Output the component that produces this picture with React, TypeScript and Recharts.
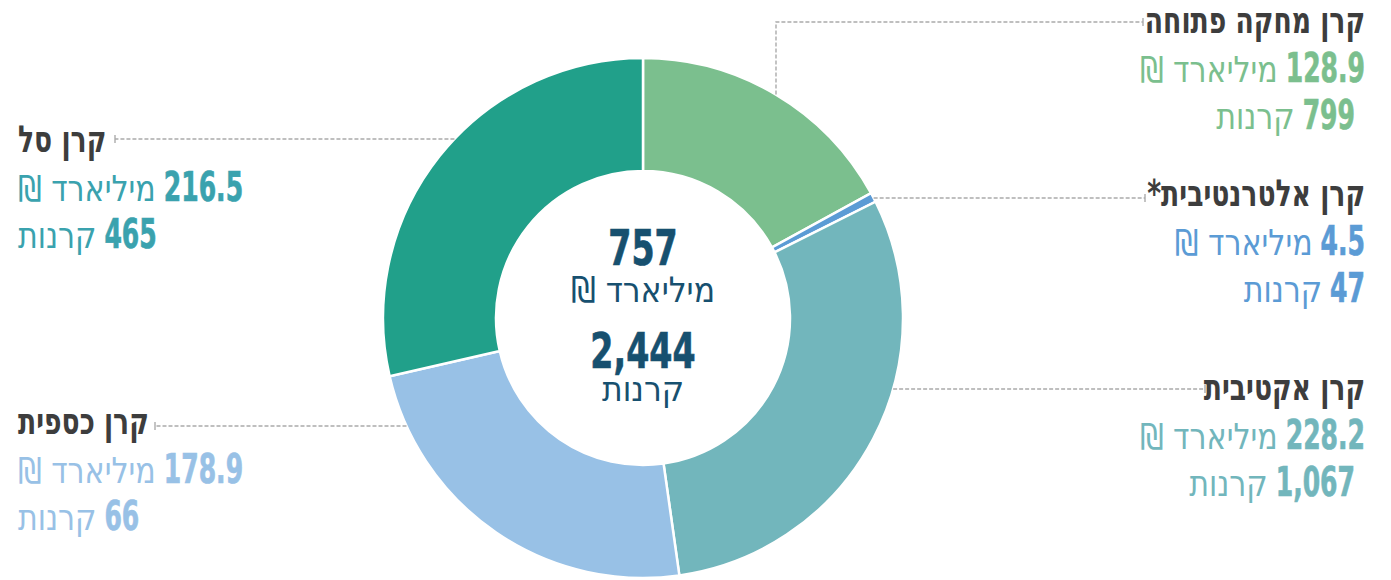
import React, { useLayoutEffect, useRef, useState } from 'react';
import { PieChart, Pie, Cell } from 'recharts';

// fund types, clockwise from the top
const fundNames = ['קרן מחקה פתוחה', 'קרן אלטרנטיבית*', 'קרן אקטיבית', 'קרן כספית', 'קרן סל'];
const assetsBn = [128.9, 4.5, 228.2, 178.9, 216.5];
const fundCounts = [799, 47, 1067, 66, 465];
const totalAssetsBn = 757;
const totalFunds = 2444;
const unitBn = 'מיליארד ₪';
const unitFunds = 'קרנות';

const sliceColors = ['#7bbf8e', '#5b9bd5', '#72b6bc', '#98c1e6', '#21a08a'];
const textColors = ['#7bbf8e', '#5b9bd5', '#72b6bc', '#98c1e6', '#3aa2ae'];

const FONT = "'DejaVu Sans Condensed', 'DejaVu Sans', sans-serif";
const TITLE_COLOR = '#3d3d3d';
const CENTER_COLOR = '#17506f';
const LINE_COLOR = '#ababab';

// horizontal squeeze to mimic the condensed face of the original
const TITLE_SCALE = 0.8;
const NUM_SCALE = 0.68;
const UNIT_SCALE = 0.93;
const CENTER_NUM_SCALE = 0.74;
const GAP = 8;

// label placement (layout only)
const labelLayout = [
    { side: 'right', lineY: 22, tickX: 1143, elbowX: 776, textX: 1365, titleY: 33, indent: 10 },
    { side: 'right', lineY: 198, tickX: 1145, elbowX: 0, textX: 1365, titleY: 206, indent: 0 },
    { side: 'right', lineY: 389, tickX: 1205, elbowX: 0, textX: 1365, titleY: 400, indent: 10 },
    { side: 'left', lineY: 426, tickX: 155, elbowX: 0, textX: 18, titleY: 434, indent: 0 },
    { side: 'left', lineY: 139, tickX: 115, elbowX: 0, textX: 18, titleY: 152, indent: 0 },
];

const data = fundNames.map((name, i) => ({ name, value: assetsBn[i], funds: fundCounts[i] }));

function ValueLine({ x, y, right, num, unit, color }: any) {
    const numRef = useRef<SVGTextElement>(null);
    const unitRef = useRef<SVGTextElement>(null);
    const [size, setSize] = useState({ num: 0, unit: 0 });

    // measure so the number and its unit sit side by side
    useLayoutEffect(() => {
        const n = numRef.current ? numRef.current.getComputedTextLength() * NUM_SCALE : 0;
        const u = unitRef.current ? unitRef.current.getComputedTextLength() * UNIT_SCALE : 0;
        if (Math.abs(n - size.num) > 0.5 || Math.abs(u - size.unit) > 0.5) setSize({ num: n, unit: u });
    });

    const numX = right ? x : x + size.unit + GAP;
    const unitX = right ? x - size.num - GAP : x;
    return (
        <g>
            <text ref={numRef} transform={`translate(${numX},${y}) scale(${NUM_SCALE},1)`}
                textAnchor={right ? 'end' : 'start'} fontFamily={FONT} fontSize={41} fontWeight={700}
                fill={color} stroke={color} strokeWidth={0.7}>
                {num}
            </text>
            <text ref={unitRef} transform={`translate(${unitX},${y}) scale(${UNIT_SCALE},1)`}
                direction="rtl" textAnchor={right ? 'start' : 'end'} fontFamily={FONT} fontSize={36} fill={color}>
                {unit}
            </text>
        </g>
    );
}

function renderLabel(props: any) {
    const { index, cx, cy, outerRadius } = props;
    const l = labelLayout[index];
    const right = l.side === 'right';
    let path: string;
    if (l.elbowX) {
        const sy = cy - Math.sqrt(outerRadius * outerRadius - (l.elbowX - cx) ** 2);
        path = `M${l.elbowX},${sy} L${l.elbowX},${l.lineY} L${l.tickX},${l.lineY}`;
    } else {
        const dx = Math.sqrt(outerRadius * outerRadius - (l.lineY - cy) ** 2);
        const sx = right ? cx + dx : cx - dx;
        path = `M${sx},${l.lineY} L${l.tickX},${l.lineY}`;
    }
    const color = textColors[index];
    return (
        <g key={`lbl-${index}`}>
            <path d={path} fill="none" stroke={LINE_COLOR} strokeWidth={1.4} strokeDasharray="4 2" />
            <line x1={l.tickX} y1={l.lineY - 4} x2={l.tickX} y2={l.lineY + 4} stroke={LINE_COLOR} strokeWidth={1.4} />
            <text transform={`translate(${l.textX},${l.titleY}) scale(${TITLE_SCALE},1)`} direction="rtl"
                textAnchor={right ? 'start' : 'end'} fontFamily={FONT} fontSize={37} fontWeight={700} fill={TITLE_COLOR}>
                {fundNames[index]}
            </text>
            <ValueLine x={l.textX} y={l.titleY + 49} right={right} num={assetsBn[index].toFixed(1)} unit={unitBn} color={color} />
            <ValueLine x={right ? l.textX - l.indent : l.textX} y={l.titleY + 96} right={right}
                num={fundCounts[index].toLocaleString('en-US')} unit={unitFunds} color={color} />
        </g>
    );
}

export default function App() {
    return (
        <div style={{ position: 'absolute', left: 0, top: 0, width: 1391, height: 580, background: '#fff' }}>
            <PieChart width={1391} height={580} margin={{ top: 0, right: 0, bottom: 0, left: 0 }}>
                <Pie
                    data={data}
                    dataKey="value"
                    cx={643}
                    cy={318}
                    innerRadius={147}
                    outerRadius={260}
                    startAngle={90}
                    endAngle={-270}
                    stroke="#fff"
                    strokeWidth={2.5}
                    label={renderLabel}
                    labelLine={false}
                    isAnimationActive={false}
                >
                    {data.map((d, i) => (
                        <Cell key={d.name} fill={sliceColors[i]} />
                    ))}
                </Pie>
                <text transform={`translate(643,265) scale(${CENTER_NUM_SCALE},1)`} textAnchor="middle" fontFamily={FONT}
                    fontSize={50} fontWeight={700} fill={CENTER_COLOR} stroke={CENTER_COLOR} strokeWidth={0.7}>
                    {totalAssetsBn}
                </text>
                <text x={643} y={302} textAnchor="middle" direction="rtl" fontFamily={FONT} fontSize={35} fill={CENTER_COLOR}>
                    {unitBn}
                </text>
                <text transform={`translate(643,368) scale(${CENTER_NUM_SCALE},1)`} textAnchor="middle" fontFamily={FONT}
                    fontSize={50} fontWeight={700} fill={CENTER_COLOR} stroke={CENTER_COLOR} strokeWidth={0.7}>
                    {totalFunds.toLocaleString('en-US')}
                </text>
                <text x={643} y={401} textAnchor="middle" direction="rtl" fontFamily={FONT} fontSize={35} fill={CENTER_COLOR}>
                    {unitFunds}
                </text>
            </PieChart>
        </div>
    );
}
